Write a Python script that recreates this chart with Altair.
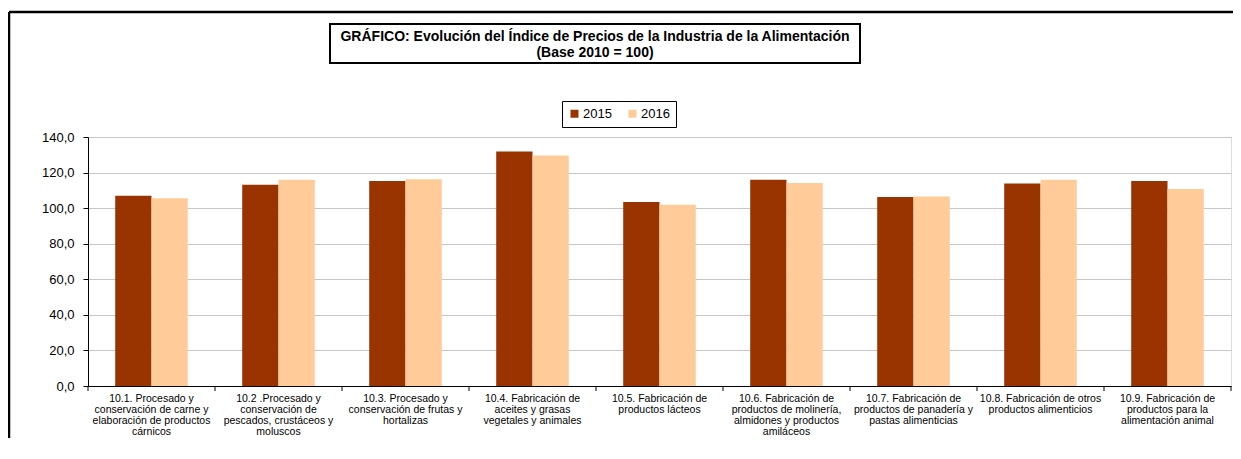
import altair as alt
import pandas as pd

categories = [
    "10.1. Procesado y|conservación de carne y|elaboración de productos|cárnicos",
    "10.2 .Procesado y|conservación de|pescados, crustáceos y|moluscos",
    "10.3. Procesado y|conservación de frutas y|hortalizas",
    "10.4. Fabricación de|aceites y grasas|vegetales y animales",
    "10.5. Fabricación de|productos lácteos",
    "10.6. Fabricación de|productos de molinería,|almidones y productos|amiláceos",
    "10.7. Fabricación de|productos de panadería y|pastas alimenticias",
    "10.8. Fabricación de otros|productos alimenticios",
    "10.9. Fabricación de|productos para la|alimentación animal",
]
years = ["2015", "2016"]
values_2015 = [106.9, 113.1, 115.3, 131.8, 103.5, 115.9, 106.2, 113.8, 115.3]
values_2016 = [105.6, 115.9, 116.3, 129.6, 101.9, 114.2, 106.5, 115.9, 110.8]
y_ticks = [0, 20, 40, 60, 80, 100, 120, 140]
title_lines = [
    "GRÁFICO: Evolución del Índice de Precios de la Industria de la Alimentación",
    "(Base 2010 = 100)",
]

rows = []
for c, a, b in zip(categories, values_2015, values_2016):
    rows.append({"cat": c, "year": years[0], "value": a})
    rows.append({"cat": c, "year": years[1], "value": b})
df = pd.DataFrame(rows)
cat_df = pd.DataFrame({"cat": categories})
one = pd.DataFrame({"k": [0]})

W, H = 1143, 249
FONT = "Liberation Sans"

x_enc = alt.X(
    "cat:N",
    sort=categories,
    scale=alt.Scale(paddingInner=0, paddingOuter=0),
    axis=alt.Axis(
        title=None,
        labelAngle=0,
        labelAlign="center",
        labelBaseline="top",
        labelExpr="split(datum.label, '|')",
        labelFontSize=10.5,
        labelLineHeight=11.2,
        labelColor="#000000",
        labelFont=FONT,
        labelPadding=7,
        labelOverlap=False,
        labelLimit=0,
        ticks=False,
        domainColor="#000000",
        domainWidth=1,
        grid=False,
    ),
)

bars = alt.Chart(df).mark_bar().encode(
    x=x_enc,
    xOffset=alt.XOffset("year:N", sort=years,
                        scale=alt.Scale(paddingInner=0, paddingOuter=0.75)),
    y=alt.Y(
        "value:Q",
        scale=alt.Scale(domain=[0, 140], nice=False),
        axis=alt.Axis(
            title=None,
            values=y_ticks,
            labelExpr="replace(format(datum.value, '.1f'), '.', ',')",
            labelFontSize=13,
            labelFont=FONT,
            labelColor="#000000",
            labelPadding=9,
            tickSize=5,
            tickColor="#000000",
            domainColor="#000000",
            grid=True,
            gridColor="#c6c6c6",
            gridWidth=1,
        ),
    ),
    color=alt.Color(
        "year:N",
        sort=years,
        scale=alt.Scale(domain=years, range=["#993300", "#FFCC99"]),
        legend=alt.Legend(
            title=None,
            orient="none",
            legendX=474,
            legendY=-36,
            direction="horizontal",
            strokeColor="#000000",
            padding=6,
            symbolType="square",
            symbolSize=64,
            symbolStrokeWidth=0,
            labelFontSize=13,
            labelFont=FONT,
            labelColor="#000000",
            labelOffset=2,
            columnPadding=14,
        ),
    ),
)

ticks_left = alt.Chart(cat_df).mark_rule(color="#000000").encode(
    x=alt.X("cat:N", sort=categories, bandPosition=0),
    y=alt.value(H),
    y2=alt.value(H + 5),
)
ticks_right = alt.Chart(cat_df).mark_rule(color="#000000").encode(
    x=alt.X("cat:N", sort=categories, bandPosition=1),
    y=alt.value(H),
    y2=alt.value(H + 5),
).transform_filter(alt.datum.cat == categories[-1])

title_box = alt.Chart(one).mark_rect(
    fill="white", stroke="#000000", strokeWidth=2
).encode(
    x=alt.value(242), x2=alt.value(772), y=alt.value(-113), y2=alt.value(-74)
)
title_l1 = alt.Chart(one).mark_text(
    text=title_lines[0], font=FONT, fontSize=14, fontWeight="bold",
    color="#000000", align="center", baseline="middle"
).encode(x=alt.value(507), y=alt.value(-100))
title_l2 = alt.Chart(one).mark_text(
    text=title_lines[1], font=FONT, fontSize=14, fontWeight="bold",
    color="#000000", align="center", baseline="middle"
).encode(x=alt.value(507), y=alt.value(-84))

frame_top = alt.Chart(one).mark_rule(color="#000000", strokeWidth=2.5).encode(
    x=alt.value(-79), x2=alt.value(1170), y=alt.value(-125)
)
frame_left = alt.Chart(one).mark_rule(color="#000000", strokeWidth=2.5).encode(
    x=alt.value(-79), y=alt.value(-125), y2=alt.value(330)
)

chart = alt.layer(
    frame_top, frame_left, title_box, title_l1, title_l2, bars, ticks_left, ticks_right
).properties(
    width=W,
    height=H,
    autosize=alt.AutoSizeParams(type="none"),
    padding={"left": 80, "top": 129, "right": 2, "bottom": 52},
).configure_view(
    stroke="#606060", strokeWidth=1
).configure(
    background="white"
)

chart.save("out.html", embed_options={"renderer": "svg", "actions": False})
